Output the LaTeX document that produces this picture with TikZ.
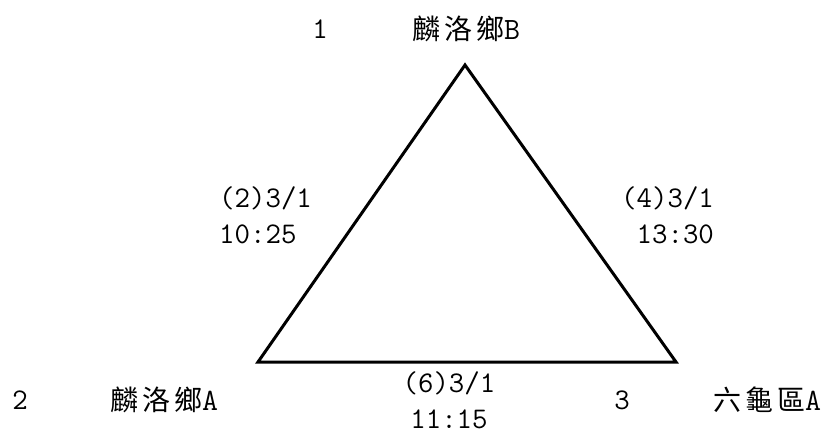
\documentclass[tikz,border=0pt]{standalone}
\usepackage{fontspec}
\setmainfont{Latin Modern Mono}
\newfontfamily\cjk{Noto Sans CJK TC}
\newcommand{\latinpart}[1]{{\fontsize{31}{36}\selectfont\rmfamily #1}}
\begin{document}
\begin{tikzpicture}[x=1pt,y=-1pt,
  lbl/.style={inner sep=0pt, font=\fontsize{30}{36}\selectfont},
  cj/.style={inner sep=0pt, font=\fontsize{28}{34}\selectfont\cjk},
  edge/.style={line width=3pt, line join=miter}]
\useasboundingbox (0,0) rectangle (837,435);
\coordinate (B) at (465,65);
\coordinate (A) at (258,362);
\coordinate (C) at (676,362);
\draw[edge] (B) -- (A) -- (C) -- cycle;
\node[lbl] (n1) at (320,29) {1};
\node[cj, anchor=west] (nB) at (412,29) {麟\hspace{4pt}洛\hspace{4pt}鄉\latinpart{B}};
\node[lbl] (n2) at (20,400) {2};
\node[cj, anchor=west] (nA) at (110,400) {麟\hspace{4pt}洛\hspace{4pt}鄉\latinpart{A}};
\node[lbl] (n3) at (622,400) {3};
\node[cj, anchor=west] (nC) at (713,400) {六\hspace{4pt}龜\hspace{4pt}區\latinpart{A}};
\node[lbl, anchor=west, align=left] (e1) at (219,215) {(2)3/1\\10:25};
\node[lbl, anchor=west, align=left] (e2) at (621,215) {(4)3/1\\\ 13:30};
\node[lbl, align=center] (e3) at (449,400) {(6)3/1\\11:15};
\end{tikzpicture}
\end{document}
